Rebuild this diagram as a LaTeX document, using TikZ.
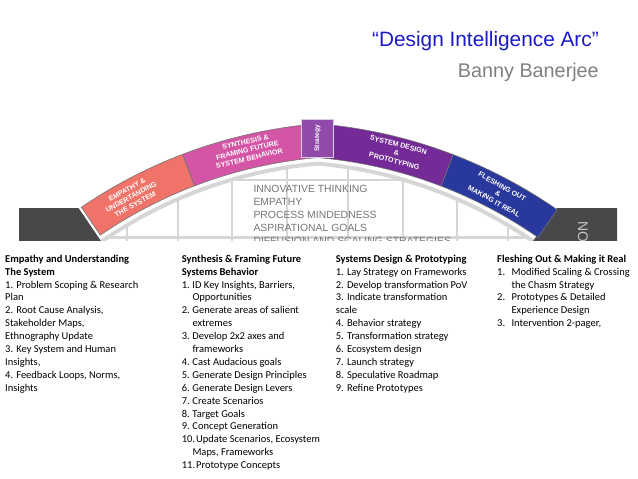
\documentclass[tikz,border=0pt]{standalone}
\usepackage{fontspec}
\setmainfont{Carlito}
\newfontfamily\arialfont{Liberation Sans}
\usetikzlibrary{calc}
\definecolor{arcsalmon}{HTML}{EF7369}
\definecolor{arcmagenta}{HTML}{D455A5}
\definecolor{arcstrategy}{HTML}{8F4AAA}
\definecolor{arcpurple}{HTML}{742A97}
\definecolor{arcblue}{HTML}{29389C}
\definecolor{arcdark}{HTML}{48484B}
\definecolor{gridgrey}{HTML}{D6D6D6}
\definecolor{titleblue}{HTML}{1A1AC8}
\newcommand{\hangnum}[2][10.6pt]{\makebox[#1][l]{#2}}

\begin{document}
\begin{tikzpicture}[x=1pt, y=1pt,
    phase/.style={draw=black!55, line width=0.6pt},
    gridline/.style={draw=gridgrey, line width=2.5pt},
    bandlabel/.style={text=white, inner sep=0pt, align=center,
                 font=\arialfont\bfseries\fontsize{7.1}{8.4}\selectfont},
    strategybox/.style={fill=arcstrategy, draw=white!70!arcstrategy, line width=0.8pt,
                 minimum width=37.7, minimum height=31.6, inner sep=0pt, text=white,
                 font=\arialfont\bfseries\fontsize{6.6}{7}\selectfont},
    archtext/.style={text=black!54, anchor=north west, inner sep=0pt, align=left,
                 font=\arialfont\fontsize{10.4}{13.1}\selectfont},
    column/.style={anchor=north west, align=left, inner sep=0pt,
                 font=\fontsize{10.5}{12.9}\selectfont},
    arctitle/.style={text=titleblue, anchor=base east, inner sep=0pt,
                 font=\arialfont\fontsize{20.8}{24}\selectfont},
    author/.style={text=black!50, anchor=base east, inner sep=0pt,
                 font=\arialfont\fontsize{19.8}{24}\selectfont}
]
\useasboundingbox (0,0) rectangle (638,-479);
\coordinate (cl) at (357.3,-611.8);
\coordinate (cr) at (277.7,-611.8);

\begin{scope}
\clip (0,-100) rectangle (638,-240.5);
\draw[gridline, line width=4pt] ($(cl)+(131:450)$) arc[start angle=131, end angle=95.07, radius=450];
\draw[gridline, line width=4pt] ($(cr)+(84.93:450)$) arc[start angle=84.93, end angle=49, radius=450];
\foreach \gx/\gy in {127/225.2, 178/199.1, 232/179.6, 287/167.3, 348/167.3, 403/179.6, 457/199.1, 508/225.2}
  \draw[gridline] (\gx,-\gy) -- (\gx,-250);
\draw[gridline] (230.6,-180) -- (404.4,-180);
\draw[gridline] (108.3,-237.5) -- (526.7,-237.5);

\fill[arcdark] (19,-208) -- (78.5,-208) -- (101,-241) -- (19,-241) -- cycle;
\fill[arcdark] (557,-208) -- (617,-208) -- (617,-241) -- (533,-241) -- cycle;

\path[phase, fill=arcsalmon] ($(cl)+(124.3:489.7)$) arc[start angle=124.3, end angle=110.9, radius=489.7]
  -- ($(cl)+(110.9:456)$) arc[start angle=110.9, end angle=124.3, radius=456] -- cycle;
\path[phase, fill=arcmagenta] ($(cl)+(110.9:489.7)$) arc[start angle=110.9, end angle=94.66, radius=489.7]
  -- ($(cl)+(94.66:456)$) arc[start angle=94.66, end angle=110.9, radius=456] -- cycle;
\path[phase, fill=arcpurple] ($(cr)+(85.34:489.7)$) arc[start angle=85.34, end angle=69, radius=489.7]
  -- ($(cr)+(69:456)$) arc[start angle=69, end angle=85.34, radius=456] -- cycle;
\path[phase, fill=arcblue] ($(cr)+(69:489.7)$) arc[start angle=69, end angle=55.2, radius=489.7]
  -- ($(cr)+(55.2:456)$) arc[start angle=55.2, end angle=69, radius=456] -- cycle;

\node[strategybox, rotate=90] (strategy) at (317.5,-138.2) {Strategy};

\node[bandlabel, rotate=28.7] (empathylbl) at ($(cl)+(118.6:472.5)$) {EMPATHY \&\\UNDERTANDING\\THE SYSTEM};
\node[bandlabel, rotate=13.4] (synthesislbl) at ($(cl)+(103.4:474.5)$) {SYNTHESIS \&\\FRAMING FUTURE\\SYSTEM BEHAVIOR};
\node[bandlabel, rotate=-14.5] (designlbl) at ($(cr)+(75.5:474)$) {SYSTEM DESIGN\\\&\\PROTOTYPING};
\node[bandlabel, rotate=-29] (fleshlbl) at ($(cr)+(62.2:472.5)$) {FLESHING OUT\\\&\\MAKING IT REAL};

\node[rotate=-90, anchor=west, inner sep=0pt, text=black!22,
      font=\arialfont\fontsize{14}{14}\selectfont] (nextlbl) at (583,-221) {NO};

\node[archtext] (virtues) at (253.3,-185)
  {INNOVATIVE THINKING\\EMPATHY\\PROCESS MINDEDNESS\\ASPIRATIONAL GOALS\\DIFFUSION AND SCALING STRATEGIES};
\end{scope}

\node[arctitle] (title) at (599,-46) {“Design Intelligence Arc”};
\node[author] (author) at ($(title.base east)+(0,-31)$) {Banny Banerjee};

\node[column] (empathycol) at (5,-254.7) {\textbf{Empathy and Understanding}\\\textbf{The System}\\%
  1. Problem Scoping \& Research\\Plan\\2. Root Cause Analysis,\\Stakeholder Maps,\\Ethnography Update\\%
  3. Key System and Human\\Insights,\\4. Feedback Loops, Norms,\\Insights};

\node[column] (synthesiscol) at (181.7,-254.7) {\textbf{Synthesis \& Framing Future}\\\textbf{Systems Behavior}\\%
  \hangnum{1.}ID Key Insights, Barriers,\\\hspace*{10.6pt}Opportunities\\%
  \hangnum{2.}Generate areas of salient\\\hspace*{10.6pt}extremes\\%
  \hangnum{3.}Develop 2x2 axes and\\\hspace*{10.6pt}frameworks\\%
  \hangnum{4.}Cast Audacious goals\\%
  \hangnum{5.}Generate Design Principles\\%
  \hangnum{6.}Generate Design Levers\\%
  \hangnum{7.}Create Scenarios\\%
  \hangnum{8.}Target Goals\\%
  \hangnum{9.}Concept Generation\\%
  \hangnum{10.}\hspace{3.6pt}Update Scenarios, Ecosystem\\\hspace*{10.6pt}Maps, Frameworks\\%
  \hangnum{11.}\hspace{3.6pt}Prototype Concepts};

\node[column] (designcol) at (335.7,-254.7) {\textbf{Systems Design \& Prototyping}\\%
  1. Lay Strategy on Frameworks\\2. Develop transformation PoV\\3. Indicate transformation\\scale\\%
  4. Behavior strategy\\5. Transformation strategy\\6. Ecosystem design\\7. Launch strategy\\%
  8. Speculative Roadmap\\9. Refine Prototypes};

\node[column] (fleshcol) at (497,-254.7) {\textbf{Fleshing Out \& Making it Real}\\%
  \hangnum[14.4pt]{1.}Modified Scaling \& Crossing\\\hspace*{14.4pt}the Chasm Strategy\\%
  \hangnum[14.4pt]{2.}Prototypes \& Detailed\\\hspace*{14.4pt}Experience Design\\%
  \hangnum[14.4pt]{3.}Intervention 2-pager,};
\end{tikzpicture}
\end{document}
